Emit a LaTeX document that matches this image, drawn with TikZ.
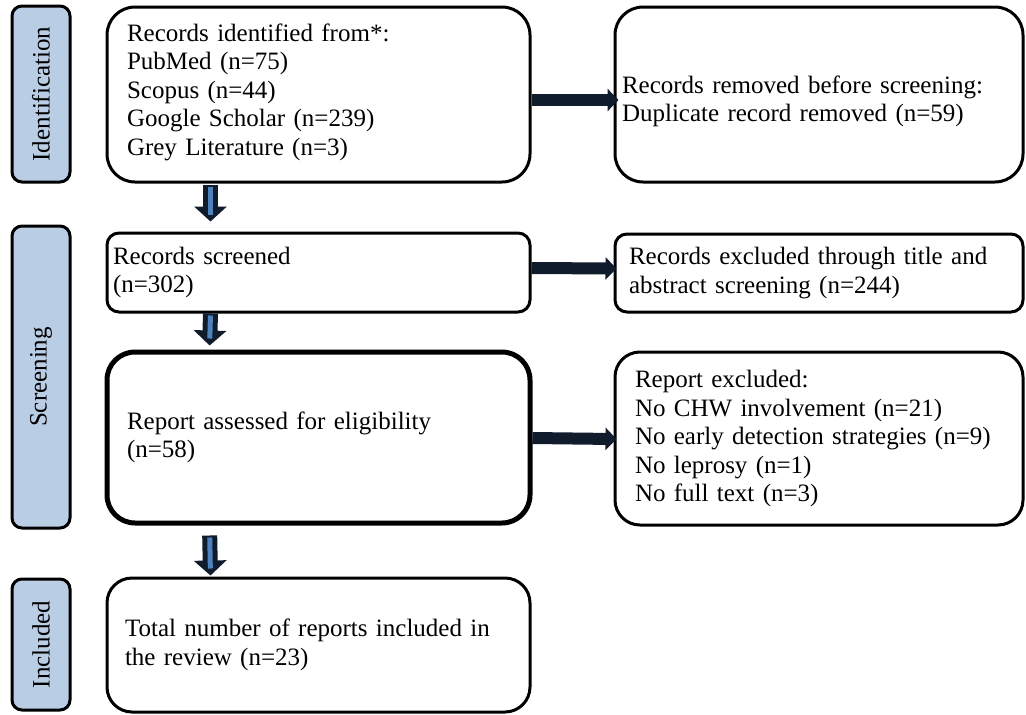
\documentclass[tikz,border=0pt]{standalone}
\usepackage{fontspec}
\usepackage{graphicx}
\setmainfont{Liberation Serif}
\usetikzlibrary{arrows.meta}
\definecolor{navy}{HTML}{101B2C}
\definecolor{arrowblue}{HTML}{4F81BD}
\definecolor{sidefill}{HTML}{B9CDE5}
\tikzset{
  flowbox/.style={draw=black, line width=3pt, fill=white, rounded corners=28pt, align=left, inner ysep=0pt},
  sidebox/.style={draw=black, line width=3pt, fill=sidefill, rounded corners=10pt, minimum width=58pt, inner sep=0pt},
  rarrow/.style={draw=navy, line width=12pt, -{Triangle[length=11pt,width=22pt]}},
  darrowbody/.style={draw=navy, line width=15pt, -{Triangle[length=15pt,width=32pt]}},
  darrowcore/.style={draw=arrowblue, line width=5pt},
}
\begin{document}
\begin{tikzpicture}[x=1pt,y=-1pt,font=\fontsize{25}{28.5}\selectfont]
\useasboundingbox (0,0) rectangle (1026,715);

% side labels
\node[sidebox, minimum height=176pt] (idside) at (41,94) {\rotatebox{90}{Identification}};
\node[sidebox, minimum height=302pt] (scrside) at (41,377) {\rotatebox{90}{Screening}};
\node[sidebox, minimum height=131pt] (incside) at (41,644.5) {\rotatebox{90}{Included}};

% main boxes
\node[flowbox, minimum width=423pt, minimum height=175pt, text width=383pt, inner xsep=20pt] (A) at (318.5,94.5)
  {Records identified from*:\\PubMed (n=75)\\Scopus (n=44)\\Google Scholar (n=239)\\Grey Literature (n=3)\vspace{5pt}};
\node[flowbox, minimum width=408pt, minimum height=175pt, text width=394pt, inner xsep=7pt] (B) at (819,94.5)
  {\rule{0pt}{31pt}Records removed before screening:\\Duplicate record removed (n=59)};
\node[flowbox, rounded corners=12pt, minimum width=423pt, minimum height=79pt, text width=411pt, inner xsep=6pt] (C) at (318.5,272.5)
  {Records screened\\(n=302)};
\node[flowbox, rounded corners=12pt, minimum width=408pt, minimum height=78pt, text width=380pt, inner xsep=14pt] (D) at (819,273)
  {Records excluded through title and\\abstract screening (n=244)};
\node[flowbox, line width=5pt, minimum width=423pt, minimum height=171pt, text width=383pt, inner xsep=20pt] (E) at (318.5,437.5)
  {Report assessed for eligibility\\(n=58)};
\node[flowbox, rounded corners=25pt, minimum width=408pt, minimum height=173pt, text width=368pt, inner xsep=20pt] (G) at (819,438.5)
  {Report excluded:\\No CHW involvement (n=21)\\No early detection strategies (n=9)\\No leprosy (n=1)\\No full text (n=3)};
\node[flowbox, rounded corners=25pt, minimum width=423pt, minimum height=134pt, text width=387pt, inner xsep=18pt] (F) at (318.5,645)
  {Total number of reports included in\\the review (n=23)};

% right arrows
\draw[rarrow, shorten >=-5pt] ([yshift=-5.5pt]A.east) -- ([yshift=-5.5pt]B.west);
\draw[rarrow, shorten >=-3pt] ([yshift=4.5pt]C.east) -- ([yshift=4.5pt]D.west);
\draw[rarrow, shorten >=-3pt] ([yshift=-0.5pt]E.east) -- ([yshift=-0.5pt]G.west);

% down arrows
\draw[darrowbody, shorten <=1pt, shorten >=10pt] ([xshift=105pt]A.south west) -- ([xshift=105pt]C.north west);
\draw[darrowcore, shorten <=3pt, shorten >=17pt] ([xshift=105pt]A.south west) -- ([xshift=105pt]C.north west);
\draw[darrowbody, shorten >=4pt] ([xshift=105pt]C.south west) -- ([xshift=105pt]E.north west);
\draw[darrowcore, shorten <=2pt, shorten >=11pt] ([xshift=105pt]C.south west) -- ([xshift=105pt]E.north west);
\draw[darrowbody, shorten <=10pt, shorten >=1pt] ([xshift=105pt]E.south west) -- ([xshift=105pt]F.north west);
\draw[darrowcore, shorten <=12pt, shorten >=8pt] ([xshift=105pt]E.south west) -- ([xshift=105pt]F.north west);
\end{tikzpicture}
\end{document}
